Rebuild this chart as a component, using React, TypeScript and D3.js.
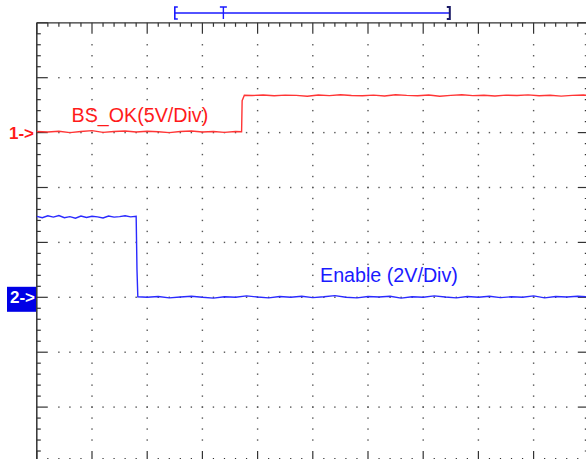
import React from "react";
import * as d3 from "d3";

// screen: 10 horizontal divisions, 8 vertical divisions
const xDivs = 10;
const yDivs = 8;
const minorPerDiv = 5;

// channel 1 (BS_OK, 5V/Div, ground marker 2 div above centre)
const ch1Name = "BS_OK(5V/Div)";
const ch1VoltsPerDiv = 5;
const ch1Offset = 2;
const ch1Time = [0, 0.2, 0.4, 0.6, 0.8, 1.0, 1.2, 1.4, 1.6, 1.8, 2.0, 2.2, 2.4, 2.6, 2.8, 3.0, 3.2, 3.4, 3.6, 3.71, 3.72, 3.76, 3.9, 4.1, 4.3, 4.5, 4.7, 4.9, 5.1, 5.3, 5.5, 5.7, 5.9, 6.1, 6.3, 6.5, 6.7, 6.9, 7.1, 7.3, 7.5, 7.7, 7.9, 8.1, 8.3, 8.5, 8.7, 8.9, 9.1, 9.3, 9.5, 9.7, 9.9, 10.0];
const ch1Volt = [0.1, 0.05, 0.12, 0.0, 0.1, 0.18, 0.02, 0.1, 0.15, 0.05, 0.12, 0.08, 0.0, 0.1, 0.14, 0.06, 0.1, 0.02, 0.1, 0.08, 2.9, 3.4, 3.38, 3.42, 3.35, 3.41, 3.39, 3.31, 3.42, 3.37, 3.45, 3.38, 3.35, 3.41, 3.33, 3.45, 3.39, 3.36, 3.42, 3.31, 3.39, 3.45, 3.37, 3.4, 3.33, 3.41, 3.38, 3.44, 3.35, 3.4, 3.32, 3.39, 3.43, 3.37];

// channel 2 (Enable, 2V/Div, ground marker 1 div below centre)
const ch2Name = "Enable (2V/Div)";
const ch2VoltsPerDiv = 2;
const ch2Offset = -1;
const ch2Time = [0, 0.1, 0.2, 0.3, 0.4, 0.5, 0.6, 0.7, 0.8, 0.9, 1.0, 1.1, 1.2, 1.3, 1.4, 1.5, 1.6, 1.7, 1.8, 1.815, 1.83, 2.0, 2.2, 2.4, 2.6, 2.8, 3.0, 3.2, 3.4, 3.6, 3.8, 4.0, 4.2, 4.4, 4.6, 4.8, 5.0, 5.2, 5.4, 5.6, 5.8, 6.0, 6.2, 6.4, 6.6, 6.8, 7.0, 7.2, 7.4, 7.6, 7.8, 8.0, 8.2, 8.4, 8.6, 8.8, 9.0, 9.2, 9.4, 9.6, 9.8, 10.0];
const ch2Volt = [2.95, 2.9, 2.97, 2.92, 2.98, 2.9, 2.94, 2.88, 2.96, 2.91, 2.95, 2.93, 2.89, 2.96, 2.92, 2.94, 2.97, 2.93, 2.95, 1.0, 0.02, 0.0, 0.03, -0.02, 0.01, 0.04, 0.0, -0.03, 0.02, 0.0, 0.05, 0.01, -0.02, 0.03, 0.0, 0.04, -0.01, 0.02, 0.06, 0.0, -0.02, 0.03, 0.01, 0.04, -0.03, 0.02, 0.0, 0.05, 0.01, -0.02, 0.03, 0.0, 0.04, -0.01, 0.02, 0.0, 0.05, -0.02, 0.03, 0.01, 0.04, 0.02];

// horizontal position bracket (in divisions) and trigger marker
const windowStart = 2.5;
const windowEnd = 7.5;
const triggerPos = 3.38;

const W = 586;
const H = 459;

export default function App() {
  const x = d3.scaleLinear().domain([0, xDivs]).range([36.8, 588.8]);
  const y = d3.scaleLinear().domain([-yDivs / 2, yDivs / 2]).range([462, 22.8]);

  const line1 = d3
    .line<number>()
    .x((_, i) => x(ch1Time[i]))
    .y((v) => y(v / ch1VoltsPerDiv + ch1Offset));
  const line2 = d3
    .line<number>()
    .x((_, i) => x(ch2Time[i]))
    .y((v) => y(v / ch2VoltsPerDiv + ch2Offset));

  const xMinor = d3.range(0, xDivs * minorPerDiv + 1).map((i) => i / minorPerDiv);
  const yMinor = d3.range(0, yDivs * minorPerDiv + 1).map((i) => -yDivs / 2 + i / minorPerDiv);
  const isMajor = (v: number) => Math.abs(v - Math.round(v)) < 1e-6;

  const x0 = x(0), x1 = x(xDivs), y0 = y(yDivs / 2), y1 = y(-yDivs / 2);
  const axisColor = "#333";

  // dots on grid lines
  const dots: JSX.Element[] = [];
  d3.range(1, yDivs).forEach((k) => {
    const gy = y(-yDivs / 2 + k);
    xMinor.slice(2, -2).forEach((t, j) =>
      dots.push(<rect key={`h${k}-${j}`} x={x(t) - 0.7} y={gy - 0.7} width={1.4} height={1.4} fill="#555" />)
    );
  });
  d3.range(1, xDivs).forEach((k) => {
    const gx = x(k);
    yMinor.slice(2, -2).forEach((v, j) =>
      dots.push(<rect key={`v${k}-${j}`} x={gx - 0.7} y={y(v) - 0.7} width={1.4} height={1.4} fill="#555" />)
    );
  });

  const wx0 = x(windowStart), wx1 = x(windowEnd) - 1, tx = x(triggerPos);

  return (
    <svg width={W} height={H} style={{ position: "absolute", left: 0, top: 0, background: "#fff" }}
      fontFamily="Liberation Sans, Arial, sans-serif">
      <rect width={W} height={H} fill="#fff" />
      {dots}

      {/* axes frame */}
      <line x1={x0} x2={x1} y1={y0} y2={y0} stroke={axisColor} strokeWidth={1.2} />
      <line x1={x0} x2={x0} y1={y0} y2={y1} stroke={axisColor} strokeWidth={1.5} />
      <line x1={x1} x2={x1} y1={y0} y2={y1} stroke={axisColor} strokeWidth={1.5} />
      <line x1={x0} x2={x1} y1={y1} y2={y1} stroke={axisColor} strokeWidth={1.5} />
      {xMinor.map((t, i) => {
        const len = isMajor(t) ? 11 : 4;
        return (
          <g key={`xt${i}`} stroke={axisColor} strokeWidth={1.2}>
            <line x1={x(t)} x2={x(t)} y1={y0} y2={y0 + len} />
            <line x1={x(t)} x2={x(t)} y1={y1} y2={y1 - len} />
          </g>
        );
      })}
      {yMinor.map((v, i) => {
        const len = isMajor(v) ? 11 : 4;
        return (
          <g key={`yt${i}`} stroke={axisColor} strokeWidth={1.2}>
            <line x1={x0} x2={x0 + len} y1={y(v)} y2={y(v)} />
            <line x1={x1} x2={x1 - len} y1={y(v)} y2={y(v)} />
          </g>
        );
      })}

      {/* horizontal window bracket */}
      <line x1={wx0} x2={wx1} y1={13} y2={13} stroke="#1a1aff" strokeWidth={1.3} />
      <path d={`M${wx0 + 3},7 H${wx0} V19 H${wx0 + 3}`} fill="none" stroke="#1a1aff" strokeWidth={1.6} />
      <path d={`M${tx - 3.5},7 H${tx + 3.5} M${tx},7 V19`} fill="none" stroke="#1a1aff" strokeWidth={1.4} />
      <path d={`M${wx1 - 3},7 H${wx1} V19 H${wx1 - 3}`} fill="none" stroke="#1a1a66" strokeWidth={2} />

      {/* traces */}
      <path d={line1(ch1Volt) || ""} fill="none" stroke="#ff3535" strokeWidth={1.4} />
      <path d={line2(ch2Volt) || ""} fill="none" stroke="#2a2aff" strokeWidth={1.4} />

      {/* channel markers */}
      <text x={9} y={y(ch1Offset) + 6} fill="#ff1a1a" fontSize={17} fontWeight="bold">1-&gt;</text>
      <rect x={7} y={y(ch2Offset) - 10.5} width={29} height={25} fill="#0000e6" />
      <text x={10} y={y(ch2Offset) + 6} fill="#fff" fontSize={17} fontWeight="bold">2-&gt;</text>

      {/* labels */}
      <text x={71.5} y={122} fill="#ff1a1a" fontSize={19.7}>{ch1Name}</text>
      <text x={320} y={282} fill="#1a1aff" fontSize={19.7}>{ch2Name}</text>
    </svg>
  );
}
